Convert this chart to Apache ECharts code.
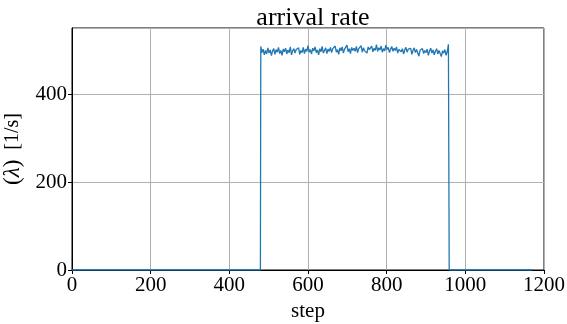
<!DOCTYPE html>
<html>
<head>
<meta charset="utf-8">
<script src="https://cdn.jsdelivr.net/npm/echarts@6/dist/echarts.min.js"></script>
<style>
  html, body { margin: 0; padding: 0; background: #fff; }
  #chart { width: 567px; height: 324px; }
</style>
</head>
<body>
<div id="chart"></div>
<script>
// steps where the rate is zero (before and after the active window)
const zeroStepsBefore = [0, 479]
const zeroStepsAfter = [959, 1170]

// active window: one reading every 3 steps from step 480
const activeStart = 480
const activeStepSize = 3
const activeRates = [
  508, 494, 502, 489, 499, 491, 505, 493, 500, 487, 498, 503, 490, 501, 495, 506, 492, 499, 488, 502,
  496, 504, 491, 500, 494, 507, 489, 498, 503, 493, 501, 497, 505, 490, 499, 494, 506, 492, 502, 497,
  510, 495, 501, 491, 504, 498, 507, 494, 500, 489, 503, 496, 508, 493, 499, 505, 492, 502, 497, 506,
  494, 503, 499, 509, 495, 501, 490, 505, 498, 507, 493, 502, 500, 511, 496, 503, 492, 506, 499, 504,
  497, 508, 494, 503, 500, 510, 495, 505, 498, 502, 493, 507, 501, 498, 509, 496, 504, 499, 512, 497,
  505, 500, 509, 495, 503, 498, 511, 501, 506, 494, 502, 508, 497, 504, 499, 507, 493, 501, 505, 496,
  503, 491, 500, 506, 495, 502, 498, 504, 490, 499, 505, 494, 501, 497, 486, 500, 496, 503, 492, 499,
  494, 502, 488, 498, 504, 493, 500, 489, 497, 503, 491, 499, 495, 485, 498, 493, 501, 488, 496, 513,
]

const xTicks = [0, 200, 400, 600, 800, 1000, 1200]
const yTicks = [0, 200, 400]

const seriesData = [
  ...zeroStepsBefore.map(s => [s, 0]),
  ...activeRates.map((v, i) => [activeStart + i * activeStepSize, v]),
  ...zeroStepsAfter.map(s => [s, 0]),
]

const font = 'Liberation Serif, Times New Roman, serif'
const chart = echarts.init(document.getElementById('chart'), null, { renderer: 'canvas' })

chart.setOption({
  animation: false,
  title: {
    text: 'arrival rate',
    left: 308,
    textAlign: 'center',
    top: 0,
    textStyle: { fontFamily: font, fontSize: 26, fontWeight: 'normal', color: '#000' },
  },
  grid: {
    left: 72, right: 23, top: 28, bottom: 54,
    outerBoundsMode: 'none',
    containLabel: false,
    show: true, borderColor: '#000', borderWidth: 1,
  },
  xAxis: {
    type: 'value',
    min: xTicks[0],
    max: xTicks[xTicks.length - 1],
    interval: 200,
    name: 'step',
    nameLocation: 'middle',
    nameGap: 30,
    nameTextStyle: { fontFamily: font, fontSize: 21, color: '#000' },
    axisLine: { lineStyle: { color: '#000', width: 1 } },
    axisTick: { show: true, length: 4, lineStyle: { color: '#000' } },
    axisLabel: { fontFamily: font, fontSize: 21, color: '#000', margin: 5, formatter: v => String(v) },
    splitLine: { show: true, lineStyle: { color: '#b0b0b0', width: 1 } },
  },
  yAxis: {
    type: 'value',
    min: yTicks[0],
    max: 550,
    interval: 200,
    name: '{p|(}{l|λ}{p|)}  [1/s]',
    nameLocation: 'middle',
    nameGap: 36,
    nameRotate: 90,
    nameTextStyle: {
      fontFamily: font, fontSize: 20, color: '#000',
      rich: {
        p: { fontFamily: font, fontSize: 23, color: '#000' },
        l: { fontFamily: font, fontSize: 23, fontStyle: 'italic', color: '#000' },
      },
    },
    axisLine: { show: true, lineStyle: { color: '#000', width: 1 } },
    axisTick: { show: true, length: 4, lineStyle: { color: '#000' } },
    axisLabel: { fontFamily: font, fontSize: 21, color: '#000', margin: 5, showMaxLabel: false, formatter: v => String(v) },
    splitLine: { show: true, lineStyle: { color: '#b0b0b0', width: 1 } },
  },
  series: [
    {
      type: 'line',
      data: seriesData,
      showSymbol: false,
      lineStyle: { color: '#1f77b4', width: 1.3 },
    },
  ],
})
</script>
</body>
</html>
